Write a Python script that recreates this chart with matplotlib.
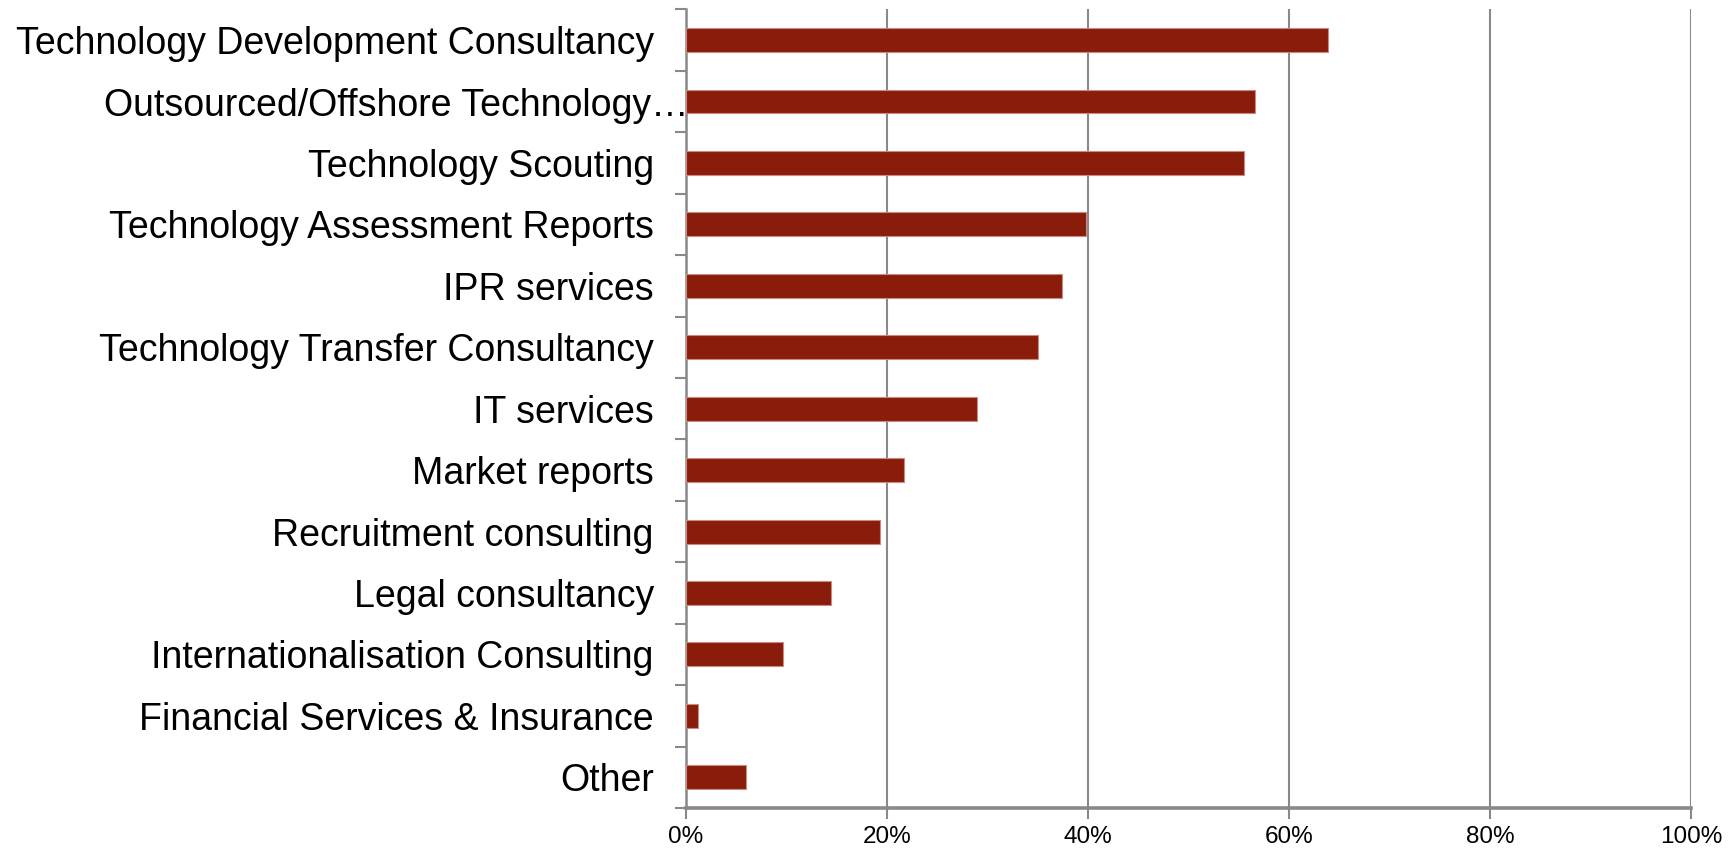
import matplotlib
matplotlib.use("Agg")
import matplotlib.pyplot as plt
import matplotlib.transforms as mtransforms
from matplotlib.ticker import FixedLocator, PercentFormatter

categories = [
    "Technology Development Consultancy",
    "Outsourced/Offshore Technology…",
    "Technology Scouting",
    "Technology Assessment Reports",
    "IPR services",
    "Technology Transfer Consultancy",
    "IT services",
    "Market reports",
    "Recruitment consulting",
    "Legal consultancy",
    "Internationalisation Consulting",
    "Financial Services & Insurance",
    "Other",
]
values = [63.9, 56.6, 55.5, 39.8, 37.4, 35.0, 29.0, 21.7, 19.3, 14.5, 9.7, 1.2, 6.0]
xticks = [0, 20, 40, 60, 80, 100]

plt.rcParams['font.family'] = ['Liberation Sans', 'DejaVu Sans']

fig = plt.figure(figsize=(17.36, 8.51), dpi=100)
ax = fig.add_axes([0.395, 0.0505, 0.974 - 0.395, 0.989 - 0.0505])

n = len(categories)
ypos = list(range(n))
ax.barh(ypos, values, height=0.39, color='#8A1C0C', edgecolor='#C98A80',
        linewidth=0.8, zorder=3)

ax.set_ylim(n - 0.5, -0.5)
ax.set_xlim(0, 100)
ax.set_yticks(ypos)
ax.set_yticklabels(categories, fontsize=27)
ax.yaxis.set_minor_locator(FixedLocator([i - 0.5 for i in range(n + 1)]))
ax.tick_params(axis='y', which='major', length=0, pad=23)
ax.tick_params(axis='y', which='minor', length=8, width=1.5, color='#898989')

ax.set_xticks(xticks)
ax.xaxis.set_major_formatter(PercentFormatter(decimals=0))
ax.tick_params(axis='x', which='major', length=8, width=1.5, color='#898989',
               labelsize=17.5, pad=5)

ax.grid(axis='x', color='#898989', linewidth=1.5, zorder=0)
ax.set_axisbelow(True)

for s in ['top', 'right']:
    ax.spines[s].set_visible(False)
ax.spines['left'].set_color('#898989')
ax.spines['left'].set_linewidth(1.8)
ax.spines['bottom'].set_color('#898989')
ax.spines['bottom'].set_linewidth(2.6)

# shift truncated label so that the ellipsis overhangs like the original
lbl = ax.get_yticklabels()[1]
offset = mtransforms.ScaledTranslation(35 / 100, 0, fig.dpi_scale_trans)
lbl.set_transform(lbl.get_transform() + offset)

fig.savefig("out.png", dpi=100)
